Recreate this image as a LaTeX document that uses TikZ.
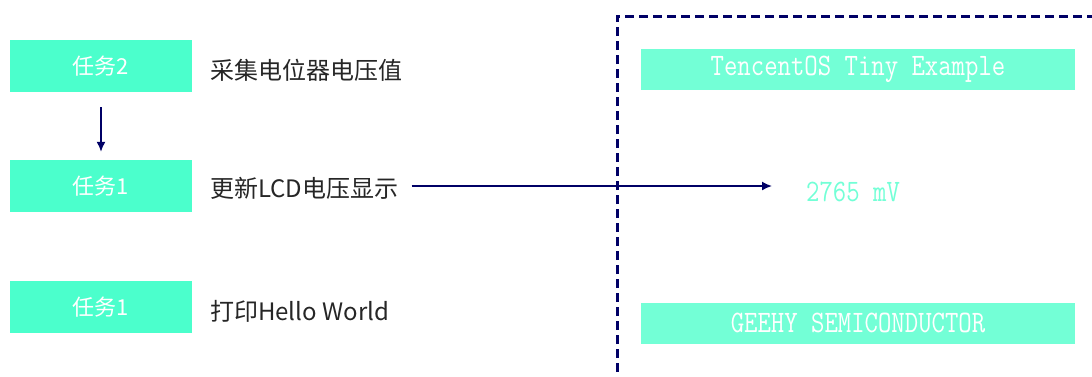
\documentclass[tikz,border=0pt]{standalone}
\usepackage{fontspec}
\newfontfamily\cjk{Noto Sans CJK SC}
\usepackage{graphicx}
\usepackage{tikz}
\usetikzlibrary{arrows.meta}
\usepackage{xcolor}

\definecolor{navy}{RGB}{0,0,102}
\definecolor{taskgreen}{RGB}{75,255,204}
\definecolor{lcdgreen}{RGB}{115,255,214}

% tall narrow screen lettering
\newcommand{\lcdtext}[1]{\scalebox{1}[1.2]{#1}}

\tikzset{
    taskbox/.style={fill=taskgreen, text=white, minimum width=182pt, minimum height=52pt, inner sep=0pt, font=\cjk\fontsize{22}{24}\selectfont},
    tasknote/.style={anchor=west, inner sep=0pt, text=black!85, font=\cjk\fontsize{24}{26}\selectfont},
    lcdbar/.style={fill=lcdgreen, text=white, minimum width=434pt, minimum height=41pt, inner sep=0pt, font=\ttfamily\fontsize{26}{28}\selectfont},
    flow/.style={navy, line width=1.6pt, -{Latex[length=10pt, width=9pt]}}
}

\begin{document}
\begin{tikzpicture}[x=1pt, y=-1pt]

    \useasboundingbox (0, 0) rectangle (1092, 376);
    \clip (0, 0) rectangle (1092, 376);

    % Tasks on the left
    \node[taskbox] (T2) at (101, 66) {任务2};
    \node[taskbox] (T1) at (101, 186) {任务1};
    \node[taskbox] (T1b) at (101, 307) {任务1};

    % What each task does
    \node[tasknote] (N2) at (210, 70) {采集电位器电压值};
    \node[tasknote] (N1) at (210, 188) {更新LCD电压显示};
    \node[tasknote] (N1b) at (210, 311) {打印Hello World};

    % LCD screen (dashed frame)
    \draw[navy, line width=3pt, dash pattern=on 9pt off 5pt] (617, 400) -- (617, 16) -- (1110, 16);

    % Screen contents
    \node[lcdbar] (title) at (858, 69) {\lcdtext{TencentOS Tiny Example}};
    \node[anchor=west, inner sep=0pt, text=lcdgreen, font=\ttfamily\fontsize{26}{28}\selectfont] (mv) at (806, 192) {\lcdtext{2765 mV}};
    \node[lcdbar] (vendor) at (858, 323) {\lcdtext{GEEHY SEMICONDUCTOR}};

    % Arrows
    \draw[flow, shorten <=15pt, shorten >=8pt] (T2) -- (T1);
    \draw[flow, shorten <=13pt, shorten >=34pt] (N1.east |- 0, 186) -- (mv.west |- 0, 186);

\end{tikzpicture}
\end{document}
